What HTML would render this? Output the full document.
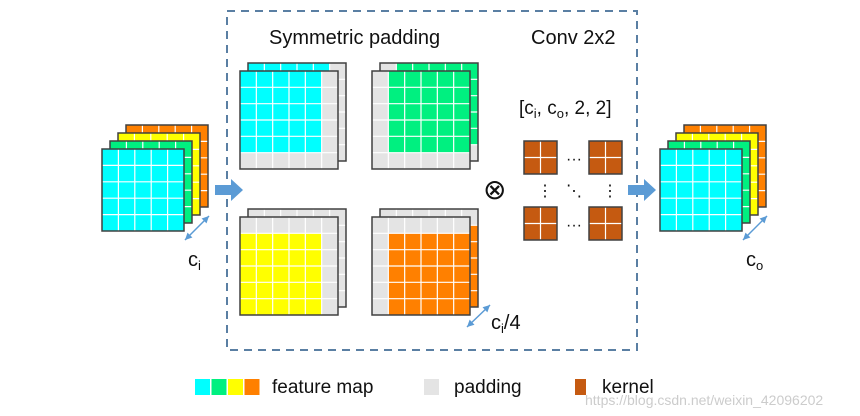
<!DOCTYPE html>
<html><head><meta charset="utf-8"><style>
html,body{margin:0;padding:0;background:#fff;}
svg{display:block;font-family:"Liberation Sans",sans-serif;}
</style></head><body>
<svg id="s" width="860" height="416" viewBox="0 0 860 416" xmlns="http://www.w3.org/2000/svg">
<rect x="227" y="11" width="410" height="339" fill="none" stroke="#5a7fa3" stroke-width="2" stroke-dasharray="8,6"/>
<text x="269" y="44" font-size="20" fill="#111">Symmetric padding</text>
<text x="531" y="44" font-size="20" fill="#111">Conv 2x2</text>
<g id="g"></g>
<text x="519" y="114" font-size="19" fill="#111">[c<tspan font-size="13" dy="4">i</tspan><tspan dy="-4">, c</tspan><tspan font-size="13" dy="4">o</tspan><tspan dy="-4">, 2, 2]</tspan></text>
<text x="483" y="199" font-size="28" fill="#111">⊗</text>
<text x="566" y="164" font-size="16" fill="#111">···</text>
<text x="566" y="230" font-size="16" fill="#111">···</text>
<text x="537" y="196" font-size="16" fill="#111">⋮</text>
<text x="602" y="196" font-size="16" fill="#111">⋮</text>
<text x="566" y="196" font-size="16" fill="#111">⋱</text>
<text x="188" y="266" font-size="20" fill="#111">c<tspan font-size="13" dy="4">i</tspan></text>
<text x="746" y="266" font-size="20" fill="#111">c<tspan font-size="13" dy="4">o</tspan></text>
<text x="491" y="329" font-size="20" fill="#111">c<tspan font-size="13" dy="4">i</tspan><tspan dy="-4">/4</tspan></text>
<text x="272" y="393" font-size="19" fill="#111">feature map</text>
<text x="454" y="393" font-size="19" fill="#111">padding</text>
<text x="602" y="393" font-size="19" fill="#111">kernel</text>
<text x="585" y="405" font-size="14" fill="#ccc">https://blog.csdn.net/weixin_42096202</text>
</svg>
<script>
var g=document.getElementById('g'),NS="http://www.w3.org/2000/svg";
function r(x,y,w,h,f,s,sw){var e=document.createElementNS(NS,'rect');e.setAttribute('x',x);e.setAttribute('y',y);e.setAttribute('width',w);e.setAttribute('height',h);e.setAttribute('fill',f||'none');if(s){e.setAttribute('stroke',s);e.setAttribute('stroke-width',sw||1.5);}g.appendChild(e);}
function l(x1,y1,x2,y2,c,w){var e=document.createElementNS(NS,'line');e.setAttribute('x1',x1);e.setAttribute('y1',y1);e.setAttribute('x2',x2);e.setAttribute('y2',y2);e.setAttribute('stroke',c);e.setAttribute('stroke-width',w||1);g.appendChild(e);}
var C='#00ffff',G='#00f080',Y='#ffff00',O='#ff8000',P='#e4e4e4',B='#c55a11';
// grid: n cells, color fn
function grid(x,y,size,n,cf){var c=size/n;for(var i=0;i<n;i++)for(var j=0;j<n;j++)r(x+j*c,y+i*c,c,c,cf(i,j));for(var k=1;k<n;k++){l(x+k*c,y,x+k*c,y+size,'#fff',1.2);l(x,y+k*c,x+size,y+k*c,'#fff',1.2);}r(x,y,size,size,'none','#404040',1.5);}
function stack(x,y,cols){for(var k=cols.length-1;k>=0;k--){grid(x+8*k,y-8*k,82,5,function(){return cols[k];});}}
stack(102,149,[C,G,Y,O]);stack(660,149,[C,G,Y,O]);
function pad(x,y,fc,mode){var f=function(i,j){if(mode==0)return (i==5||j==5)?P:fc;if(mode==1)return (i==5||j==0)?P:fc;if(mode==2)return (i==0||j==5)?P:fc;return (i==0||j==0)?P:fc;};grid(x+8,y-8,98,6,f);grid(x,y,98,6,f);}
pad(240,71,C,0);pad(372,71,G,1);pad(240,217,Y,2);pad(372,217,O,3);
[[524,141],[589,141],[524,207],[589,207]].forEach(function(p){grid(p[0],p[1],33,2,function(){return B;});});
// arrows
function arr(x,y){var e=document.createElementNS(NS,'path');e.setAttribute('d','M'+x+' '+(y-5)+'h16v-6l12 11l-12 11v-6h-16z');e.setAttribute('fill','#5b9bd5');g.appendChild(e);}
arr(215,190);arr(628,190);
function darr(x1,y1,x2,y2){l(x1,y1,x2,y2,'#5b9bd5',1.5);[[x1,y1,x2,y2],[x2,y2,x1,y1]].forEach(function(a){var dx=a[0]-a[2],dy=a[1]-a[3],L=Math.hypot(dx,dy);dx/=L;dy/=L;var bx=a[0]-dx*7,by=a[1]-dy*7;var e=document.createElementNS(NS,'path');e.setAttribute('d','M'+a[0]+' '+a[1]+'L'+(bx-dy*3.5)+' '+(by+dx*3.5)+'L'+(bx+dy*3.5)+' '+(by-dx*3.5)+'z');e.setAttribute('fill','#5b9bd5');g.appendChild(e);});}
darr(185,240,209,216);darr(743,240,767,216);darr(467,327,490,305);
// legend
[C,G,Y,O].forEach(function(c,i){r(195+i*16.5,379,15,16,c);});
r(424,379,15,16,P);r(575,379,11,16,B);
</script>
</body></html>
